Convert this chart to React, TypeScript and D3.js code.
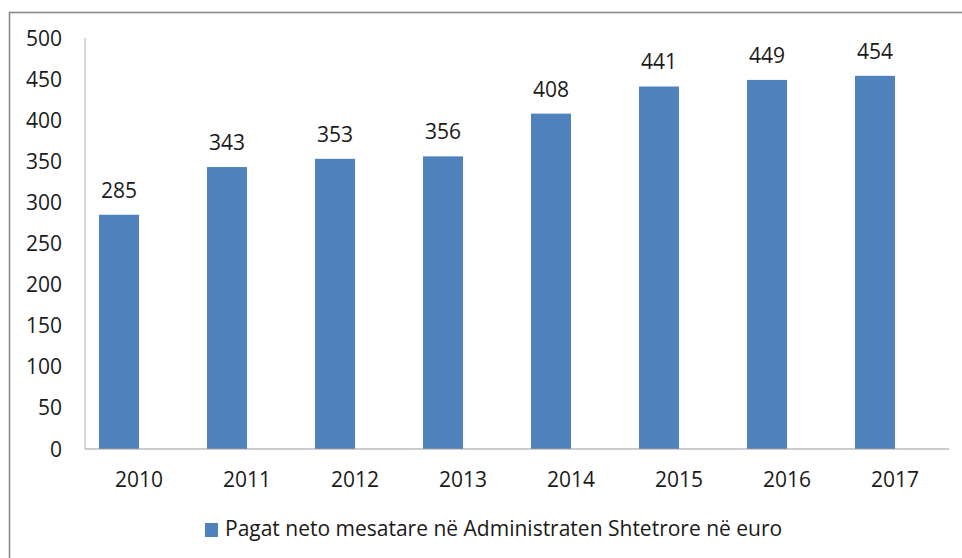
import React from "react";
import * as d3 from "d3";

const years = ["2010", "2011", "2012", "2013", "2014", "2015", "2016", "2017"];
const values = [285, 343, 353, 356, 408, 441, 449, 454];
const yTicks = [0, 50, 100, 150, 200, 250, 300, 350, 400, 450, 500];
const legendLabel = "Pagat neto mesatare në Administraten Shtetrore në euro";

const W = 962;
const H = 558;
const FONT = "'Open Sans', sans-serif";
const FS = 21;

export default function App() {
  const x = d3.scaleBand<string>().domain(years).range([85, 949]);
  const y = d3.scaleLinear().domain([0, 500]).range([449, 38]);
  const barW = 40;
  const blue = "#4F81BD";
  return (
    <svg
      width={W}
      height={H}
      style={{ position: "fixed", left: 0, top: 0, background: "#fff" }}
      fontFamily={FONT}
    >
      <rect x={0} y={0} width={W} height={H} fill="#fff" />
      <rect x={9.5} y={12.5} width={W + 20} height={H + 20} fill="none" stroke="#8a8a8a" strokeWidth={1.6} />
      {/* y axis */}
      <line x1={85} x2={85} y1={38} y2={449} stroke="#b0b0b0" strokeWidth={1} />
      {yTicks.map((t) => (
        <text key={t} x={62} y={y(t) + 7.5} textAnchor="end" fontSize={FS} fill="#1a1a1a">
          {t}
        </text>
      ))}
      {/* bars */}
      {years.map((yr, i) => {
        const c = (x(yr) as number) + x.bandwidth() / 2;
        return (
          <g key={yr}>
            <rect x={c - barW} y={y(values[i])} width={barW} height={y(0) - y(values[i])} fill={blue} />
            <text x={c - barW / 2} y={y(values[i]) - 17} textAnchor="middle" fontSize={FS} fill="#1a1a1a">
              {values[i]}
            </text>
            <text x={c} y={487} textAnchor="middle" fontSize={FS} fill="#1a1a1a">
              {yr}
            </text>
          </g>
        );
      })}
      {/* x axis */}
      <line x1={85} x2={949} y1={449} y2={449} stroke="#999" strokeWidth={1.2} />
      {/* legend */}
      <rect x={205} y={523} width={13} height={14} fill={blue} />
      <text x={225} y={536} fontSize={FS} fill="#1a1a1a">
        {legendLabel}
      </text>
    </svg>
  );
}
